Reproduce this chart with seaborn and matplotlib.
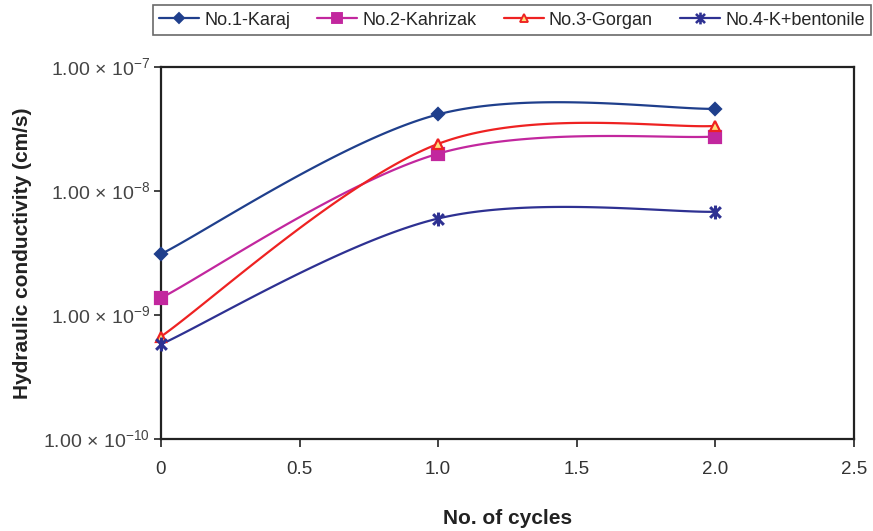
import numpy as np
import pandas as pd
import seaborn as sns
import matplotlib
matplotlib.use("Agg")
import matplotlib.pyplot as plt
from matplotlib.lines import Line2D
from matplotlib.path import Path
from matplotlib.ticker import FixedLocator, LogLocator, NullFormatter

# ---- data ----
cycles = [0, 1, 2]
karaj = [3.1e-9, 4.15e-8, 4.6e-8]
kahrizak = [1.37e-9, 2.0e-8, 2.75e-8]
gorgan = [6.7e-10, 2.4e-8, 3.35e-8]
bentonite = [5.8e-10, 6.0e-9, 6.8e-9]
series_names = ["No.1-Karaj", "No.2-Kahrizak", "No.3-Gorgan", "No.4-K+bentonile"]
x_ticks = [0, 0.5, 1.0, 1.5, 2.0, 2.5]
x_tick_labels = ["0", "0.5", "1.0", "1.5", "2.0", "2.5"]
y_ticks = [1e-10, 1e-9, 1e-8, 1e-7]
y_tick_labels = [r"1.00 × 10$^{-10}$", r"1.00 × 10$^{-9}$", r"1.00 × 10$^{-8}$", r"1.00 × 10$^{-7}$"]

sns.set_style("white")
plt.rcParams['font.family'] = ['Liberation Sans', 'DejaVu Sans']
plt.rcParams['mathtext.fontset'] = 'custom'
plt.rcParams['mathtext.rm'] = 'Liberation Sans'

# asterisk marker (X plus vertical bar)
ast = Path([(-1, -1), (1, 1), (-1, 1), (1, -1), (0, -1.3), (0, 1.3)],
           [Path.MOVETO, Path.LINETO, Path.MOVETO, Path.LINETO, Path.MOVETO, Path.LINETO])

styles = [
    dict(color="#1F3F8C", marker="D", ms=6, mfc="#1F3F8C", mec="#1F3F8C", mew=1.6),
    dict(color="#C2279E", marker="s", ms=8, mfc="#C2279E", mec="#C2279E", mew=1.6),
    dict(color="#EE2222", marker="^", ms=7, mfc="#FFE07A", mec="#EE2222", mew=1.6),
    dict(color="#2E3192", marker=ast, ms=10, mfc="#2E3192", mec="#2E3192", mew=2.2),
]


def smooth(xs, ys, n=60):
    """Excel-like smoothed Bezier through points in (x, log10 y) space."""
    P = np.column_stack([np.asarray(xs, float), np.log10(ys)])
    out = []
    m = len(P)
    for i in range(m - 1):
        p0 = P[i - 1] if i > 0 else P[i]
        p1 = P[i]
        p2 = P[i + 1]
        p3 = P[i + 2] if i + 2 < m else P[i + 1]
        c1 = p1 + (p2 - p0) / 6.0
        c2 = p2 - (p3 - p1) / 6.0
        t = np.linspace(0, 1, n)[:, None]
        seg = ((1 - t) ** 3) * p1 + 3 * ((1 - t) ** 2) * t * c1 + 3 * (1 - t) * t ** 2 * c2 + t ** 3 * p2
        out.append(seg if i == 0 else seg[1:])
    S = np.vstack(out)
    return S[:, 0], 10 ** S[:, 1]


fig = plt.figure(figsize=(8.73, 5.31), dpi=100)
ax = fig.add_axes([0.1844, 0.1733, 0.9782 - 0.1844, 0.8738 - 0.1733])

handles = []
for name, vals, st in zip(series_names, [karaj, kahrizak, gorgan, bentonite], styles):
    sx, sy = smooth(cycles, vals)
    df = pd.DataFrame({"x": sx, "y": sy})
    sns.lineplot(data=df, x="x", y="y", sort=False, ax=ax, color=st["color"], lw=1.6,
                 estimator=None, legend=False)
    ax.plot(cycles, vals, ls="none", marker=st["marker"], ms=st["ms"], mfc=st["mfc"],
            mec=st["mec"], mew=st["mew"], clip_on=False, zorder=5)
    handles.append(Line2D([], [], color=st["color"], lw=1.6, marker=st["marker"], ms=st["ms"] * 0.85,
                          mfc=st["mfc"], mec=st["mec"], mew=st["mew"] * 0.85, label=name))

ax.set_yscale("log")
ax.set_xlim(0, 2.5)
ax.set_ylim(1e-10, 1e-7)
ax.set_xticks(x_ticks)
ax.set_xticklabels(x_tick_labels)
ax.yaxis.set_major_locator(FixedLocator(y_ticks))
ax.set_yticklabels(y_tick_labels)
ax.yaxis.set_minor_locator(LogLocator(base=10, subs=np.arange(2, 10)))
ax.yaxis.set_minor_formatter(NullFormatter())

for s in ax.spines.values():
    s.set_visible(True)
    s.set_color("#222222")
    s.set_linewidth(1.6)

ax.tick_params(axis="x", which="major", direction="out", length=6, width=1.2, colors="#222222",
               labelsize=13.5, labelcolor="#333333", pad=10)
ax.tick_params(axis="y", which="major", direction="out", length=5, width=1.2, colors="#222222",
               labelsize=14, labelcolor="#444444", pad=3)
ax.tick_params(axis="y", which="minor", direction="inout", length=5, width=1.0, colors="#222222")
ax.tick_params(left=True, bottom=True, top=False, right=False)

ax.set_xlabel("No. of cycles", fontsize=15, fontweight="bold", labelpad=22, color="#222222")
ax.set_ylabel("Hydraulic conductivity (cm/s)", fontsize=15, fontweight="bold", color="#222222")
ax.yaxis.set_label_coords(-0.186, 0.5)

leg = fig.legend(handles=handles, loc="center", bbox_to_anchor=(0.5865, 0.962), ncol=4,
                 frameon=True, fontsize=13, handlelength=2.2, handletextpad=0.3, columnspacing=1.5,
                 borderpad=0.35, fancybox=False, edgecolor="#444444")
leg.get_frame().set_linewidth(1.2)

fig.savefig("out.png", dpi=100)
